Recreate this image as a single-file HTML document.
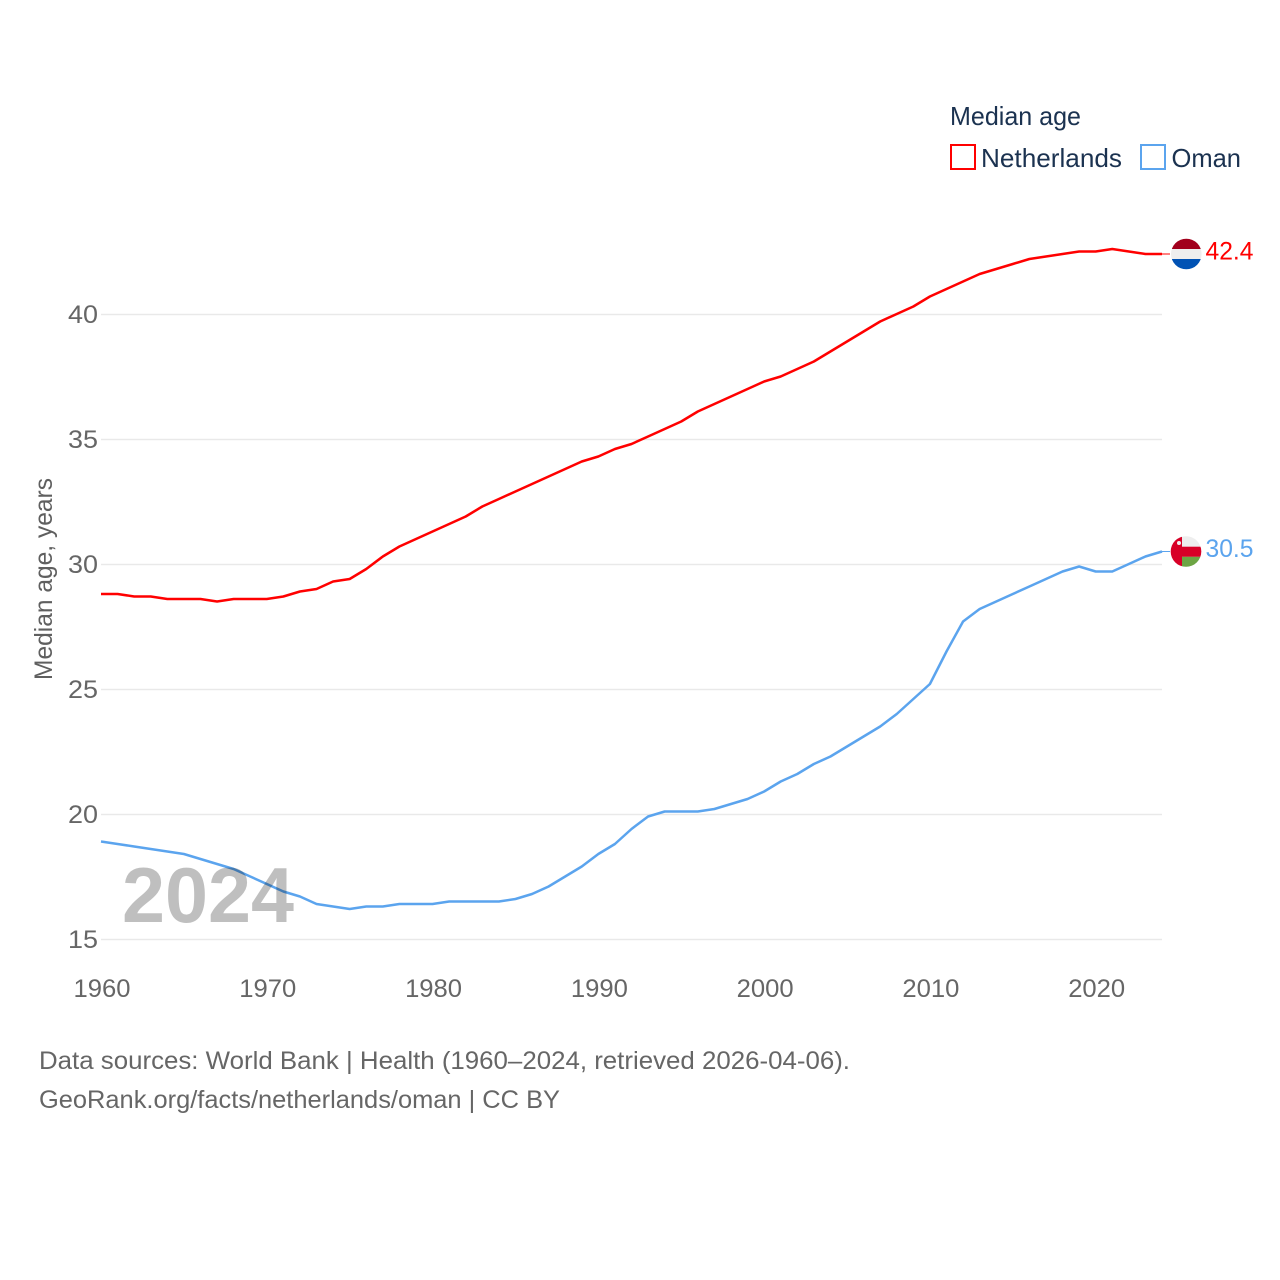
<!DOCTYPE html>
<html lang="en">
<head>
<meta charset="utf-8">
<title>Median age: Netherlands and Oman</title>
<style>
html,body{margin:0;padding:0;background:#fff;}
svg{display:block;font-family:"Liberation Sans",sans-serif;}
</style>
</head>
<body>
<svg id="chart" xmlns="http://www.w3.org/2000/svg" width="1280" height="1280" viewBox="0 0 1280 1280">
  <defs>
    <clipPath id="clip-nl"><circle id="clip-nl-c" cx="1186.3" cy="254" r="15.3"></circle></clipPath>
    <clipPath id="clip-om"><circle id="clip-om-c" cx="1186" cy="552" r="15.3"></circle></clipPath>
  </defs>
  <g id="grid"></g>
  <g id="yticks"></g>
  <g id="xticks"></g>
  <text transform="translate(52,680) rotate(-90)" font-size="25" fill="#5f5f5f" textLength="202" lengthAdjust="spacingAndGlyphs">Median age, years</text>
  <g id="series" transform="translate(0,-0.5)"></g>
  <text x="122" y="922" font-size="78" font-weight="bold" fill="rgba(0,0,0,0.25)" textLength="172" lengthAdjust="spacingAndGlyphs">2024</text>
  <g id="flags"></g>
  <g>
    <text x="950" y="125" font-size="26" fill="#1b3250" textLength="131" lengthAdjust="spacingAndGlyphs">Median age</text>
    <rect x="951" y="145" width="24" height="24" fill="none" stroke="#ff0000" stroke-width="2"></rect>
    <text x="981" y="167" font-size="26" fill="#1b3250" textLength="141" lengthAdjust="spacingAndGlyphs">Netherlands</text>
    <rect x="1141" y="145" width="24" height="24" fill="none" stroke="#5ba4ee" stroke-width="2"></rect>
    <text x="1171.5" y="167" font-size="26" fill="#1b3250" textLength="69.5" lengthAdjust="spacingAndGlyphs">Oman</text>
  </g>
  <text x="39" y="1069" font-size="25" fill="#666666" textLength="811" lengthAdjust="spacingAndGlyphs">Data sources: World Bank | Health (1960–2024, retrieved 2026-04-06).</text>
  <text x="39" y="1108" font-size="25" fill="#666666" textLength="521" lengthAdjust="spacingAndGlyphs">GeoRank.org/facts/netherlands/oman | CC BY</text>
</svg>
<script>
const years = [1960,1961,1962,1963,1964,1965,1966,1967,1968,1969,1970,1971,1972,1973,1974,1975,1976,1977,1978,1979,1980,1981,1982,1983,1984,1985,1986,1987,1988,1989,1990,1991,1992,1993,1994,1995,1996,1997,1998,1999,2000,2001,2002,2003,2004,2005,2006,2007,2008,2009,2010,2011,2012,2013,2014,2015,2016,2017,2018,2019,2020,2021,2022,2023,2024];
const netherlands = [28.8,28.8,28.7,28.7,28.6,28.6,28.6,28.5,28.6,28.6,28.6,28.7,28.9,29.0,29.3,29.4,29.8,30.3,30.7,31.0,31.3,31.6,31.9,32.3,32.6,32.9,33.2,33.5,33.8,34.1,34.3,34.6,34.8,35.1,35.4,35.7,36.1,36.4,36.7,37.0,37.3,37.5,37.8,38.1,38.5,38.9,39.3,39.7,40.0,40.3,40.7,41.0,41.3,41.6,41.8,42.0,42.2,42.3,42.4,42.5,42.5,42.6,42.5,42.4,42.4];
const oman = [18.9,18.8,18.7,18.6,18.5,18.4,18.2,18.0,17.8,17.5,17.2,16.9,16.7,16.4,16.3,16.2,16.3,16.3,16.4,16.4,16.4,16.5,16.5,16.5,16.5,16.6,16.8,17.1,17.5,17.9,18.4,18.8,19.4,19.9,20.1,20.1,20.1,20.2,20.4,20.6,20.9,21.3,21.6,22.0,22.3,22.7,23.1,23.5,24.0,24.6,25.2,26.5,27.7,28.2,28.5,28.8,29.1,29.4,29.7,29.9,29.7,29.7,30.0,30.3,30.5];
const yTickValues = [15,20,25,30,35,40];
const xTickValues = [1960,1970,1980,1990,2000,2010,2020];

const SVGNS = 'http://www.w3.org/2000/svg';
const xScale = function (yr) { return 101 + (yr - 1960) * (1162 - 101) / 64; };
const yScale = function (v) { return 939.5 - (v - 15) * 25; };

function make(parent, tag, props) {
  const el = document.createElementNS(SVGNS, tag);
  for (const k in props) el.setAttribute(k, props[k]);
  parent.appendChild(el);
  return el;
}

const gridG = document.getElementById('grid');
const yG = document.getElementById('yticks');
yTickValues.forEach(function (v) {
  const line = make(gridG, 'line', {x1: 101, x2: 1162, y1: yScale(v), y2: yScale(v), stroke: '#e9e9e9', 'stroke-width': 1.5});
  
  
  const t = make(yG, 'text', {x: 68, y: yScale(v) + 8.5, 'font-size': 25, fill: '#666666', textLength: 30, lengthAdjust: 'spacingAndGlyphs'});
  t.textContent = String(v);
  
  
});

const xG = document.getElementById('xticks');
xTickValues.forEach(function (yr) {
  const t = make(xG, 'text', {x: xScale(yr) - 27.5, y: 997, 'font-size': 25, fill: '#666666', textLength: 57, lengthAdjust: 'spacingAndGlyphs'});
  t.textContent = String(yr);
  
  
});

function drawSeries(values, color, key) {
  const g = document.getElementById('series');
  const pts = values.map(function (v, i) { return xScale(years[i]).toFixed(2) + ',' + yScale(v).toFixed(2); }).join(' ');
  const line = make(g, 'polyline', {points: pts, fill: 'none', stroke: color, 'stroke-width': 2.5, 'stroke-linejoin': 'round'});
  
  
  const lastV = values[values.length - 1];
  const lastY = yScale(lastV);
  const lastX = xScale(years[years.length - 1]);
  const conn = make(g, 'line', {x1: lastX, x2: lastX + 8, y1: lastY, y2: lastY, stroke: color, 'stroke-width': 1});
  
  
  const label = make(document.getElementById('flags'), 'text', {x: 1205.5, y: lastY + 5, 'font-size': 25, fill: color, textLength: 48, lengthAdjust: 'spacingAndGlyphs'});
  label.textContent = lastV.toFixed(1);
  
  
  return lastY;
}

const nlY = drawSeries(netherlands, '#ff0000', 'netherlands');
const omY = drawSeries(oman, '#5ba4ee', 'oman');

document.getElementById('clip-nl-c').setAttribute('cy', nlY - 0.5);
document.getElementById('clip-om-c').setAttribute('cy', omY - 0.5);

const flags = document.getElementById('flags');
const nlFlag = make(flags, 'g', {'clip-path': 'url(#clip-nl)'});


make(nlFlag, 'rect', {x: 1170, y: nlY - 16, width: 33, height: 10.5, fill: '#a2001d'});
make(nlFlag, 'rect', {x: 1170, y: nlY - 5.5, width: 33, height: 10, fill: '#eeeeee'});
make(nlFlag, 'rect', {x: 1170, y: nlY + 4.5, width: 33, height: 12, fill: '#0052b4'});

const omFlag = make(flags, 'g', {'clip-path': 'url(#clip-om)'});


make(omFlag, 'rect', {x: 1170, y: omY - 17, width: 32, height: 34, fill: '#eeeeee'});
make(omFlag, 'rect', {x: 1182, y: omY + 4.7, width: 20, height: 12, fill: '#6da544'});
make(omFlag, 'rect', {x: 1182, y: omY - 5.3, width: 20, height: 10, fill: '#d80027'});
make(omFlag, 'rect', {x: 1170, y: omY - 17, width: 12, height: 34, fill: '#d80027'});
make(omFlag, 'circle', {cx: 1179, cy: omY - 9, r: 2, fill: '#eeeeee'});
</script>
</body>
</html>
